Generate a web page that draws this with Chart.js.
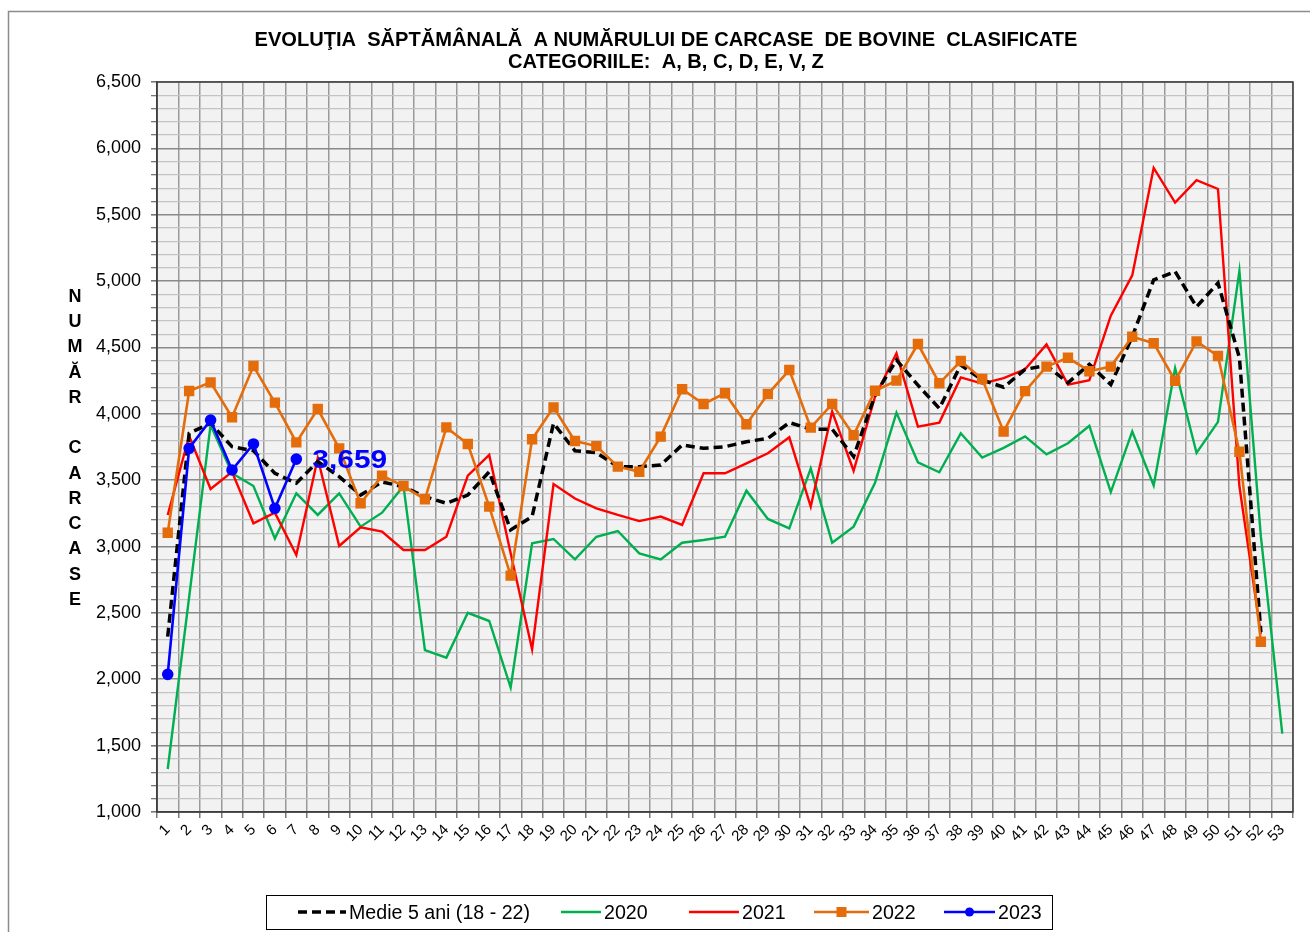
<!DOCTYPE html>
<html lang="ro">
<head>
<meta charset="UTF-8">
<title>Evolutia saptamanala carcase bovine</title>
<style>
  body { margin: 0; background: #fff; }
  #wrap { width: 1310px; height: 932px; position: relative; }
</style>
</head>
<body>
<div id="wrap"><canvas id="carcaseChart" width="1310" height="932"></canvas></div>

<script src="https://cdn.jsdelivr.net/npm/chart.js"></script>
<script>
// week numbers on the x axis
const weeks = ['1','2','3','4','5','6','7','8','9','10','11','12','13','14','15','16','17','18','19','20',
  '21','22','23','24','25','26','27','28','29','30','31','32','33','34','35','36','37','38','39','40',
  '41','42','43','44','45','46','47','48','49','50','51','52','53'];

// 5 year average (2018 - 2022)
const medie = [2321,3853,3930,3752,3722,3552,3477,3640,3527,3388,3487,3451,3376,3326,3388,3563,3125,3226,3928,3722,
  3707,3602,3602,3614,3765,3740,3752,3790,3815,3934,3884,3884,3678,4142,4406,4216,4041,4368,4255,4200,
  4335,4364,4234,4373,4220,4581,5009,5072,4806,4986,4422,2356,null];

const y2020 = [1324,2620,3916,3552,3456,3061,3401,3238,3401,3150,3255,3456,2220,2163,2501,2439,1938,3024,3057,2903,
  3074,3117,2948,2903,3029,3049,3074,3421,3208,3137,3589,3029,3150,3481,4009,3635,3560,3853,3670,3743,
  3830,3694,3778,3910,3410,3867,3460,4344,3705,3939,5078,3078,1590];

const y2021 = [3238,3833,3434,3563,3175,3255,2936,3665,3004,3145,3112,2974,2974,3074,3534,3690,2950,2226,3471,3362,
  3288,3238,3192,3226,3163,3552,3552,3627,3703,3823,3301,4017,3571,4129,4456,3903,3934,4274,4228,4269,
  4335,4523,4220,4254,4740,5043,5853,5592,5760,5694,3454,2341,null];

const y2022 = [3104,4172,4237,3974,4360,4084,3785,4036,3740,3326,3534,3456,3356,3898,3773,3301,2781,3808,4049,3795,
  3757,3602,3564,3828,4185,4074,4155,3921,4149,4330,3896,4074,3839,4174,4250,4526,4230,4398,4262,3867,
  4171,4356,4422,4321,4356,4581,4532,4249,4546,4436,3714,2283,null];

const y2023 = [2037,3740,3953,3577,3773,3288,3659];

const yTicksMin = 1000, yTicksMax = 6500, yMajorStep = 500;

const titleLines = ['EVOLUŢIA  SĂPTĂMÂNALĂ  A NUMĂRULUI DE CARCASE  DE BOVINE  CLASIFICATE',
                    'CATEGORIILE:  A, B, C, D, E, V, Z'];
const yTitle = ['N','U','M','Ă','R','','C','A','R','C','A','S','E'];

const fmt = v => v.toLocaleString('en-US');

// narrow-looking text: draw squeezed horizontally
function squeezed(c, text, x, y, sx, align) {
  c.save();
  c.translate(x, y);
  c.scale(sx, 1);
  c.textAlign = align;
  c.fillText(text, 0, 0);
  c.restore();
}

// frame, plot background, borders, titles, label and legend
const decor = {
  id: 'decor',
  beforeDraw(chart) {
    const c = chart.ctx, a = chart.chartArea;
    c.save();
    c.fillStyle = '#fff';
    c.fillRect(0, 0, chart.width, chart.height);
    c.strokeStyle = '#8c8c8c';
    c.lineWidth = 1.5;
    c.strokeRect(8.5, 11.5, chart.width + 20, chart.height + 20);
    c.fillStyle = '#f2f2f2';
    c.fillRect(a.left, a.top, a.right - a.left, a.bottom - a.top);
    c.restore();
  },
  afterDraw(chart) {
    const c = chart.ctx, a = chart.chartArea;
    c.save();
    c.strokeStyle = '#404040';
    c.lineWidth = 1.5;
    c.strokeRect(a.left, a.top, a.right - a.left, a.bottom - a.top);

    // title, condensed like the original narrow font
    c.fillStyle = '#000';
    c.textBaseline = 'middle';
    c.font = 'bold 21px "Liberation Sans", Arial, sans-serif';
    const tsx = 823 / c.measureText(titleLines[0]).width;
    squeezed(c, titleLines[0], 666, 40, tsx, 'center');
    squeezed(c, titleLines[1], 666, 62, tsx, 'center');

    // vertical axis title, one letter per line
    c.textAlign = 'center';
    c.font = 'bold 18px "Liberation Sans", Arial, sans-serif';
    yTitle.forEach((ch, i) => c.fillText(ch, 75, 297 + i * 25.25));

    // value label on the last 2023 point
    const meta = chart.getDatasetMeta(4);
    const last = meta.data[y2023.length - 1];
    c.fillStyle = '#0000ff';
    c.font = 'bold 26px "Liberation Sans", Arial, sans-serif';
    squeezed(c, fmt(y2023[y2023.length - 1]), last.x + 16, last.y + 2, 1.15, 'left');

    // legend
    c.strokeStyle = '#000';
    c.lineWidth = 1;
    c.strokeRect(266.5, 895.5, 786, 34);
    const lineX = [[298, 346], [561, 601], [689, 739], [814, 869], [944, 995]];
    const cy = 912;
    c.font = '20px "Liberation Sans", Arial, sans-serif';
    const lsx = 181 / c.measureText(chart.data.datasets[0].label).width;
    chart.data.datasets.forEach((ds, i) => {
      const [x0, x1] = lineX[i];
      c.save();
      c.strokeStyle = ds.borderColor;
      c.lineWidth = ds.borderWidth;
      c.setLineDash(ds.borderDash || []);
      c.beginPath(); c.moveTo(x0, cy); c.lineTo(x1, cy); c.stroke();
      c.restore();
      if (ds.pointRadius > 0) {
        c.fillStyle = ds.pointBackgroundColor;
        const mx = (x0 + x1) / 2;
        if (ds.pointStyle === 'rect') {
          c.fillRect(mx - 5, cy - 5, 10, 10);
        } else {
          c.beginPath(); c.arc(mx, cy, 4.5, 0, Math.PI * 2); c.fill();
        }
      }
      c.fillStyle = '#000';
      squeezed(c, ds.label, x1 + 3, cy + 1, lsx, 'left');
    });
    c.restore();
  }
};

const ctx = document.getElementById('carcaseChart').getContext('2d');
new Chart(ctx, {
  type: 'line',
  data: {
    labels: weeks,
    datasets: [
      { label: 'Medie 5 ani (18 - 22)', data: medie, borderColor: '#000', borderWidth: 3.5,
        borderDash: [9, 5], pointRadius: 0, order: 3 },
      { label: '2020', data: y2020, borderColor: '#00b050', borderWidth: 2.4, pointRadius: 0, order: 5 },
      { label: '2021', data: y2021, borderColor: '#ff0000', borderWidth: 2.4, pointRadius: 0, order: 4 },
      { label: '2022', data: y2022, borderColor: '#e46c0a', borderWidth: 2.6, pointStyle: 'rect',
        pointRadius: 5.5, pointBackgroundColor: '#e46c0a', pointBorderColor: '#e46c0a', order: 2 },
      { label: '2023', data: y2023, borderColor: '#0000ff', borderWidth: 2.6, pointStyle: 'circle',
        pointRadius: 4.5, pointBackgroundColor: '#0000ff', pointBorderColor: '#0000ff', order: 1 }
    ]
  },
  options: {
    responsive: false,
    animation: false,
    layout: { padding: { top: 82, right: 17, left: 0, bottom: 0 } },
    plugins: {
      legend: { display: false },
      title: { display: false },
      tooltip: { enabled: false }
    },
    elements: { line: { tension: 0 } },
    scales: {
      x: {
        offset: true,
        grid: { offset: true, color: '#999', lineWidth: 1.5, tickLength: 6, tickColor: '#777' },
        border: { color: '#404040', width: 1.5 },
        ticks: { color: '#000', font: { family: 'Liberation Sans', size: 15 },
                 minRotation: 45, maxRotation: 45, autoSkip: false, padding: 3 },
        afterFit(scale) { scale.height = 120; }
      },
      y: {
        min: yTicksMin,
        max: yTicksMax,
        grid: {
          color: c => (c.tick && c.tick.value % yMajorStep === 0) ? '#8a8a8a' : '#c4c4c4',
          lineWidth: c => (c.tick && c.tick.value % yMajorStep === 0) ? 1.6 : 1.3,
          tickLength: 6,
          tickColor: '#777'
        },
        border: { color: '#404040', width: 1.5 },
        ticks: {
          stepSize: 100,
          autoSkip: false,
          padding: 10,
          color: '#000',
          font: { family: 'Liberation Sans', size: 18 },
          callback: v => v % yMajorStep === 0 ? fmt(v) : ''
        },
        afterFit(scale) { scale.width = 157; }
      }
    }
  },
  plugins: [decor]
});
</script>
</body>
</html>
